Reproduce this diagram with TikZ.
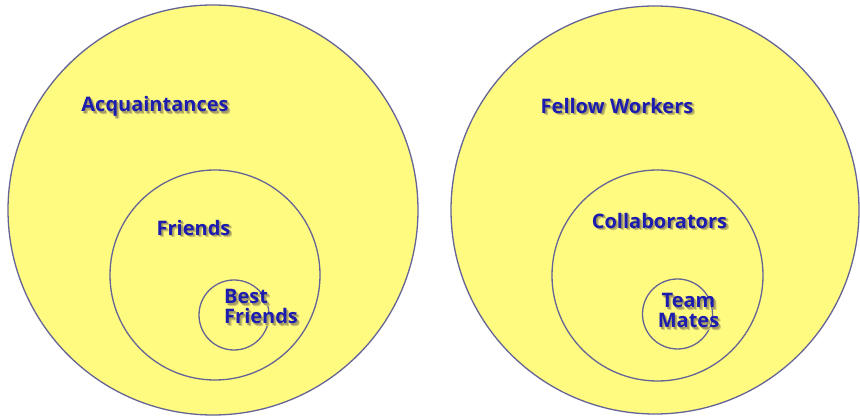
\documentclass[tikz,border=0pt]{standalone}
\usepackage{fontspec}
\setmainfont{Open Sans}
\definecolor{circfill}{RGB}{255,250,128}
\definecolor{circline}{RGB}{100,100,150}
\definecolor{txtblue}{RGB}{28,28,175}
\definecolor{shadA}{RGB}{205,197,112}
\definecolor{shadB}{RGB}{165,157,98}
\newcommand\shd[1]{\makebox[0pt][l]{\hspace{2.6pt}\raisebox{-2.8pt}{\color{shadA}#1}}\makebox[0pt][l]{\hspace{1.6pt}\raisebox{-1.8pt}{\color{shadB}#1}}#1}
\tikzset{
  ring/.style={circle, draw=circline, fill=circfill, line width=1.3pt, inner sep=0pt, minimum size=#1},
  lbl/.style={text=txtblue, font=\bfseries\fontsize{20}{20}\selectfont, align=center, inner sep=0pt}
}
\begin{document}
\begin{tikzpicture}[x=1pt,y=1pt]
\useasboundingbox (0,0) rectangle (860,417);
\fill[white] (0,0) rectangle (860,417);
% left
\node[ring=410pt] (acq) at (213,207) {};
\node[ring=210pt] (fr) at (215,142) {};
\node[ring=70pt, fill=none] (bf) at (234,102) {};
\node[lbl] (tacq) at (155,309) {\shd{Acquaintances}};
\node[lbl] (tfr) at (193.5,188) {\shd{Friends}};
\node[lbl, align=left, anchor=west] (tbf) at (224,109) {\shd{Best}\\\shd{Friends}};
% right
\node[ring=408pt] (fw) at (655,207) {};
\node[ring=211pt] (col) at (657.5,141.5) {};
\node[ring=70pt, fill=none] (tm) at (677.5,103) {};
\node[lbl] (tfw) at (617,310) {\shd{Fellow Workers}};
\node[lbl] (tcol) at (659.5,195) {\shd{Collaborators}};
\node[lbl] (ttm) at (688.5,105) {\shd{Team}\\\shd{Mates}};
\end{tikzpicture}
\end{document}
